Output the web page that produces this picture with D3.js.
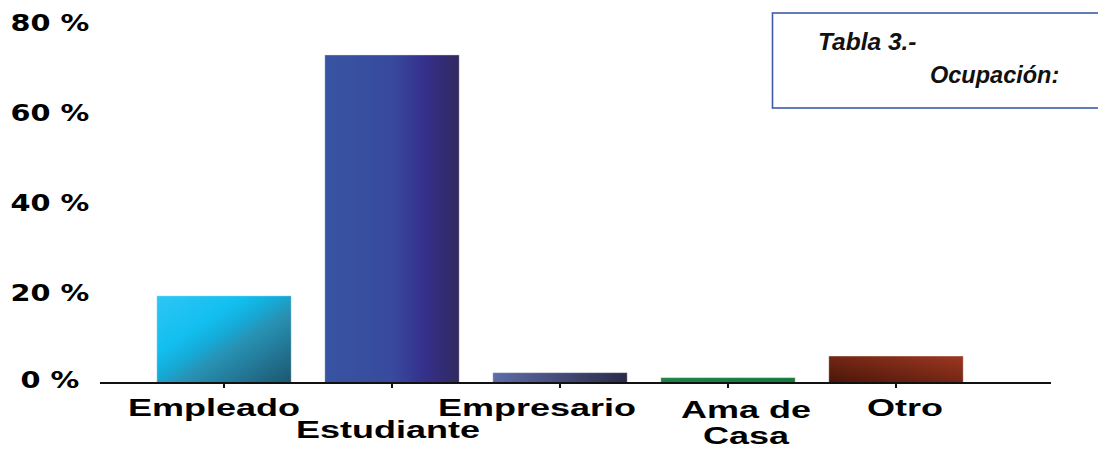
<!DOCTYPE html>
<html>
<head>
<meta charset="utf-8">
<script src="https://cdn.jsdelivr.net/npm/d3@7"></script>
<style>
  html, body { margin: 0; padding: 0; background: #fff; }
  svg { display: block; }
</style>
</head>
<body>
<svg id="chart" width="1098" height="459"></svg>
<script>
// Occupation breakdown (percent of respondents)
const categories = ["Empleado", "Estudiante", "Empresario", "Ama de Casa", "Otro"];
const categoryLines = [["Empleado"], ["Estudiante"], ["Empresario"], ["Ama de", "Casa"], ["Otro"]];
const values = [19.4, 73.0, 2.3, 1.2, 6.0];
const yTicks = [0, 20, 40, 60, 80];
const yTickLabels = ["0 %", "20 %", "40 %", "60 %", "80 %"];
const titleLines = ["Tabla 3.-", "Ocupación:"];

const svg = d3.select("#chart");
const defs = svg.append("defs");

// Fill gradients, one per bar
const gradients = [
  { id: "g0", x1: 0, y1: 0, x2: 1, y2: 1, stops: [[0, "#2ec6f4"], [0.33, "#12bfef"], [0.47, "#16a9d6"], [0.58, "#2892b4"], [1, "#1c566f"]] },
  { id: "g1", x1: 0, y1: 0, x2: 1, y2: 0, stops: [[0, "#3754a2"], [0.5, "#384a9d"], [0.74, "#35308c"], [1, "#30295f"]] },
  { id: "g2", x1: 0, y1: 0, x2: 1, y2: 0, stops: [[0, "#5f6ca8"], [1, "#2b2a48"]] },
  { id: "g3", x1: 0, y1: 0, x2: 1, y2: 0, stops: [[0, "#1b8444"], [1, "#157a3c"]] },
  { id: "g4", x1: 0, y1: 1, x2: 1, y2: 0, stops: [[0, "#4a1507"], [1, "#9c3822"]] }
];
gradients.forEach(g => {
  const lg = defs.append("linearGradient").attr("id", g.id)
    .attr("x1", g.x1).attr("y1", g.y1).attr("x2", g.x2).attr("y2", g.y2);
  g.stops.forEach(s => lg.append("stop").attr("offset", s[0]).attr("stop-color", s[1]));
});

const x = d3.scaleBand().domain(categories).range([140, 980]).paddingInner(0.2).paddingOuter(0.1);
const y = d3.scaleLinear().domain([0, 80]).range([383, 23.5]);

// Bars
svg.append("g").selectAll("rect")
  .data(values)
  .join("rect")
  .attr("x", (d, i) => x(categories[i]))
  .attr("y", d => y(d))
  .attr("width", x.bandwidth())
  .attr("height", d => y(0) - y(d))
  .attr("fill", (d, i) => `url(#${gradients[i].id})`)
  .attr("stroke", "rgba(255,255,255,0.35)")
  .attr("stroke-width", 1);

// Category axis: baseline and short ticks
const xAxis = svg.append("g");
xAxis.append("line")
  .attr("x1", 100).attr("x2", 1051)
  .attr("y1", y(0)).attr("y2", y(0))
  .attr("stroke", "#111").attr("stroke-width", 2);
xAxis.selectAll("line.tick")
  .data(categories)
  .join("line")
  .attr("class", "tick")
  .attr("x1", d => x(d) + x.bandwidth() / 2)
  .attr("x2", d => x(d) + x.bandwidth() / 2)
  .attr("y1", y(0)).attr("y2", y(0) + 5)
  .attr("stroke", "#111").attr("stroke-width", 2);

// Category labels; the second one sits on a lower row
const labelSX = 1.5;
const labelRowOffset = [0, 1, 0, 0, 0];
const labelNudge = [-10, -4, -23, 18, 9];
const labelG = svg.append("g");
categoryLines.forEach((lines, i) => {
  const cx = x(categories[i]) + x.bandwidth() / 2 + labelNudge[i];
  lines.forEach((t, j) => {
    const by = 416 + (labelRowOffset[i] + j) * 22 + (j > 0 ? 4 : 0) + (lines.length > 1 ? 2 : 0);
    labelG.append("g")
      .attr("transform", `translate(${cx},${by}) scale(${labelSX},1)`)
      .append("text")
      .attr("text-anchor", "middle")
      .attr("font-family", "'Liberation Sans', Arial, sans-serif")
      .attr("font-weight", "bold")
      .attr("font-size", 24)
      .attr("fill", "#000")
      .text(t);
  });
});

// Value axis labels (no axis line)
const yG = svg.append("g");
yTicks.forEach((v, i) => {
  yG.append("g")
    .attr("transform", `translate(50,${y(v) + (v === 0 ? -3 : 0)}) scale(1.25,1)`)
    .append("text")
    .attr("text-anchor", "middle")
    .attr("dominant-baseline", "central")
    .attr("font-family", "'DejaVu Sans', Verdana, sans-serif")
    .attr("font-weight", "bold")
    .attr("font-size", 23)
    .attr("fill", "#000")
    .text(yTickLabels[i]);
});

// Title box
const tb = svg.append("g");
tb.append("rect")
  .attr("x", 772.5).attr("y", 13).attr("width", 340).attr("height", 95)
  .attr("fill", "#fff").attr("stroke", "#3d5ba9").attr("stroke-width", 1.6);
tb.append("text")
  .attr("x", 818).attr("y", 50)
  .attr("font-family", "'Liberation Sans', Arial, sans-serif")
  .attr("font-weight", "bold").attr("font-style", "italic")
  .attr("font-size", 24.5).attr("fill", "#111")
  .text(titleLines[0]);
tb.append("text")
  .attr("x", 930).attr("y", 83)
  .attr("font-family", "'Liberation Sans', Arial, sans-serif")
  .attr("font-weight", "bold").attr("font-style", "italic")
  .attr("font-size", 23.5).attr("fill", "#111")
  .text(titleLines[1]);
</script>
</body>
</html>
